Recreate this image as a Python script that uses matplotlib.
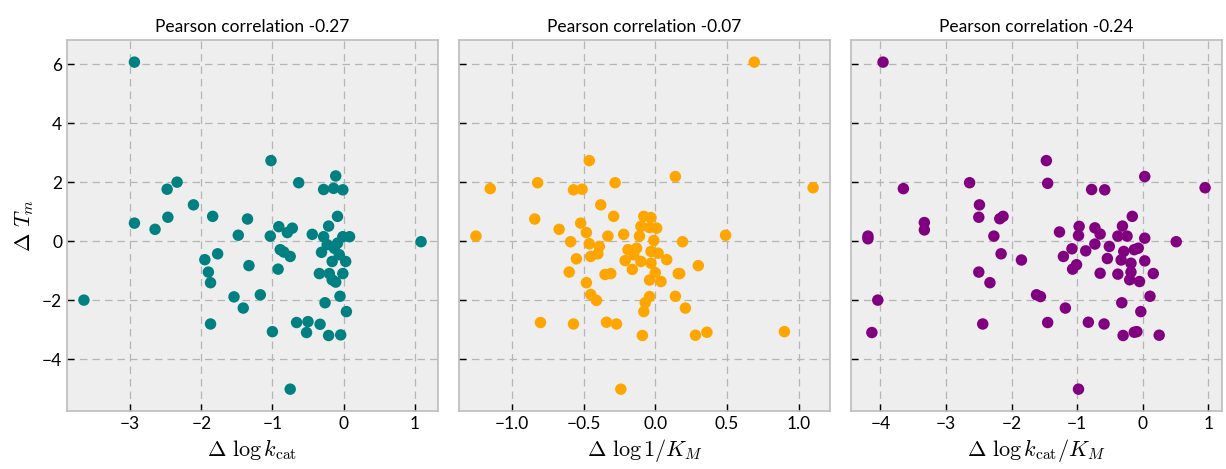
import numpy as np
import matplotlib
matplotlib.use("Agg")
import matplotlib.pyplot as plt

plt.style.use("bmh")
plt.rcParams["font.family"] = ["Lato", "DejaVu Sans"]
plt.rcParams["mathtext.fontset"] = "cm"

# delta log kcat vs delta Tm
x_kcat = [-2.94, -1.02, -0.11, -0.63, -2.34, -2.48, -0.28, -0.14, -0.01, -2.11,
          -1.84, -2.47, -1.35, -0.085, -2.94, -2.65, -1.48, -1.03, -0.91, -0.79,
          -0.72, -0.21, -0.44, -0.28, -0.01, 0.085, 1.09, -0.89, -0.84, -0.75,
          -1.77, -1.95, -1.90, -1.87, -1.33, -0.92, -0.31, -0.13, -0.06, -0.16,
          0.03, -0.34, -0.20, -0.01, -0.16, -0.11, -0.085, -0.23, -3.65, -1.54,
          -1.17, -1.41, -0.05, -0.26, 0.04, -1.87, -1.0, -0.66, -0.50, -0.52,
          -0.33, -0.21, -0.04, -0.75]
y_kcat = [6.07, 2.73, 2.21, 1.98, 2.0, 1.76, 1.75, 1.79, 1.74, 1.23,
          0.84, 0.81, 0.75, 0.84, 0.61, 0.40, 0.20, 0.17, 0.49, 0.29,
          0.44, 0.51, 0.23, 0.15, 0.15, 0.15, -0.02, -0.29, -0.37, -0.52,
          -0.43, -0.63, -1.05, -1.41, -0.83, -0.95, -0.38, -0.24, -0.46, -0.69,
          -0.69, -1.10, -1.10, -1.10, -1.31, -1.39, -0.07, -0.12, -2.0, -1.89,
          -1.82, -2.27, -1.87, -2.09, -2.39, -2.81, -3.07, -2.76, -2.73, -3.10,
          -2.82, -3.20, -3.18, -5.02]

# delta log 1/KM vs delta Tm
x_km = [0.69, -0.46, 0.14, -0.82, -0.28, -1.15, -0.57, -0.51, 1.10, -0.38,
        -0.29, -0.84, -0.08, -0.03, -0.52, -0.67, -0.48, -0.10, 0.01, -0.04,
        -1.25, -0.33, -0.22, -0.11, 0.49, -0.59, -0.46, -0.39, -0.01, 0.19,
        -0.19, -0.13, -0.40, -0.45, -0.55, -0.21, -0.15, -0.10, -0.03, 0.02,
        0.08, -0.03, 0.30, -0.16, -0.60, -0.35, -0.31, 0.00, 0.16, 0.17,
        -0.04, 0.04, -0.48, -0.45, -0.41, -0.04, -0.07, 0.14, 0.21, -0.08,
        -0.80, -0.57, -0.34, -0.27, -0.09, 0.28, 0.36, 0.90, -0.24]
y_km = [6.07, 2.73, 2.19, 1.98, 1.98, 1.78, 1.74, 1.76, 1.81, 1.23,
        0.84, 0.75, 0.84, 0.80, 0.61, 0.40, 0.29, 0.50, 0.44, 0.46,
        0.17, 0.17, 0.23, 0.17, 0.20, -0.02, -0.09, -0.18, 0.02, -0.02,
        -0.29, -0.24, -0.43, -0.52, -0.60, -0.66, -0.46, -0.69, -0.35, -0.41,
        -0.63, -0.75, -0.83, -0.96, -1.05, -1.13, -1.10, -1.07, -1.10, -1.10,
        -1.32, -1.37, -1.41, -1.81, -2.01, -1.88, -2.09, -1.87, -2.27, -2.39,
        -2.76, -2.81, -2.75, -2.81, -3.20, -3.19, -3.09, -3.07, -5.02]

# delta log kcat/KM vs delta Tm
x_eff = [-3.96, -1.47, 0.03, -2.64, -1.45, -3.65, -0.78, -0.58, 0.95, -2.49,
         -2.50, -2.18, -2.13, -0.16, -3.33, -3.33, -2.27, -4.19, -4.19, -1.27,
         -0.97, -0.98, -0.73, -0.65, -0.31, -0.38, -0.24, 0.03, 0.51, -0.73,
         -0.51, -1.08, -0.87, -1.21, -2.16, -1.85, -0.54, -0.29, -0.13, -0.07,
         -0.33, -0.18, 0.03, -1.01, -1.07, -2.50, -0.65, -0.38, -0.18, 0.16,
         -0.20, -0.05, -2.33, -1.62, -1.56, -4.04, 0.11, -0.32, -1.18, -0.03,
         -2.44, -1.45, -0.83, -0.59, -4.13, -0.30, -0.13, -0.09, 0.25, -0.98]
y_eff = [6.07, 2.73, 2.19, 1.98, 1.96, 1.78, 1.75, 1.74, 1.81, 1.23,
         0.81, 0.76, 0.84, 0.84, 0.63, 0.38, 0.17, 0.17, 0.08, 0.31,
         0.50, 0.19, 0.45, 0.24, 0.51, 0.17, 0.17, 0.10, -0.02, -0.10,
         -0.18, -0.26, -0.33, -0.52, -0.43, -0.64, -0.59, -0.35, -0.29, -0.24,
         -0.64, -0.75, -0.67, -0.80, -0.95, -1.05, -1.09, -1.12, -1.05, -1.10,
         -1.31, -1.37, -1.41, -1.82, -1.88, -2.0, -1.87, -2.09, -2.27, -2.39,
         -2.81, -2.76, -2.75, -2.81, -3.10, -3.20, -3.09, -3.07, -3.19, -5.02]

titles = ["Pearson correlation -0.27", "Pearson correlation -0.07",
          "Pearson correlation -0.24"]
xlabels = [r"$\Delta\ \log k_{\rm cat}$", r"$\Delta\ \log 1/K_M$",
           r"$\Delta\ \log k_{\rm cat}/K_M$"]
colors = ["teal", "orange", "purple"]
xs = [x_kcat, x_km, x_eff]
ys = [y_kcat, y_km, y_eff]

fig, axes = plt.subplots(1, 3, figsize=(12.26, 4.69), dpi=100, sharey=True)
fig.subplots_adjust(left=0.0547, right=0.9967, top=0.9147, bottom=0.1237, wspace=0.057)

for ax, x, y, c, t, xl in zip(axes, xs, ys, colors, titles, xlabels):
    ax.scatter(x, y, s=68, color=c, edgecolors="none", zorder=3)
    ax.set_title(t, fontsize=12.5)
    ax.set_xlabel(xl, fontsize=16)
    ax.grid(True, linestyle=(0, (6, 4)), color="#b5b5b5", linewidth=0.9)
    ax.set_facecolor("#eeeeee")
    for sp in ax.spines.values():
        sp.set_color("#bcbcbc")
        sp.set_linewidth(1.2)
    ax.tick_params(direction="in", length=5, width=1, color="black",
                   labelsize=12.5, top=False, right=False)

axes[0].set_ylim(-5.76, 6.82)
axes[0].set_ylabel(r"$\Delta\ T_m$", fontsize=16)

plt.savefig("out.png")
